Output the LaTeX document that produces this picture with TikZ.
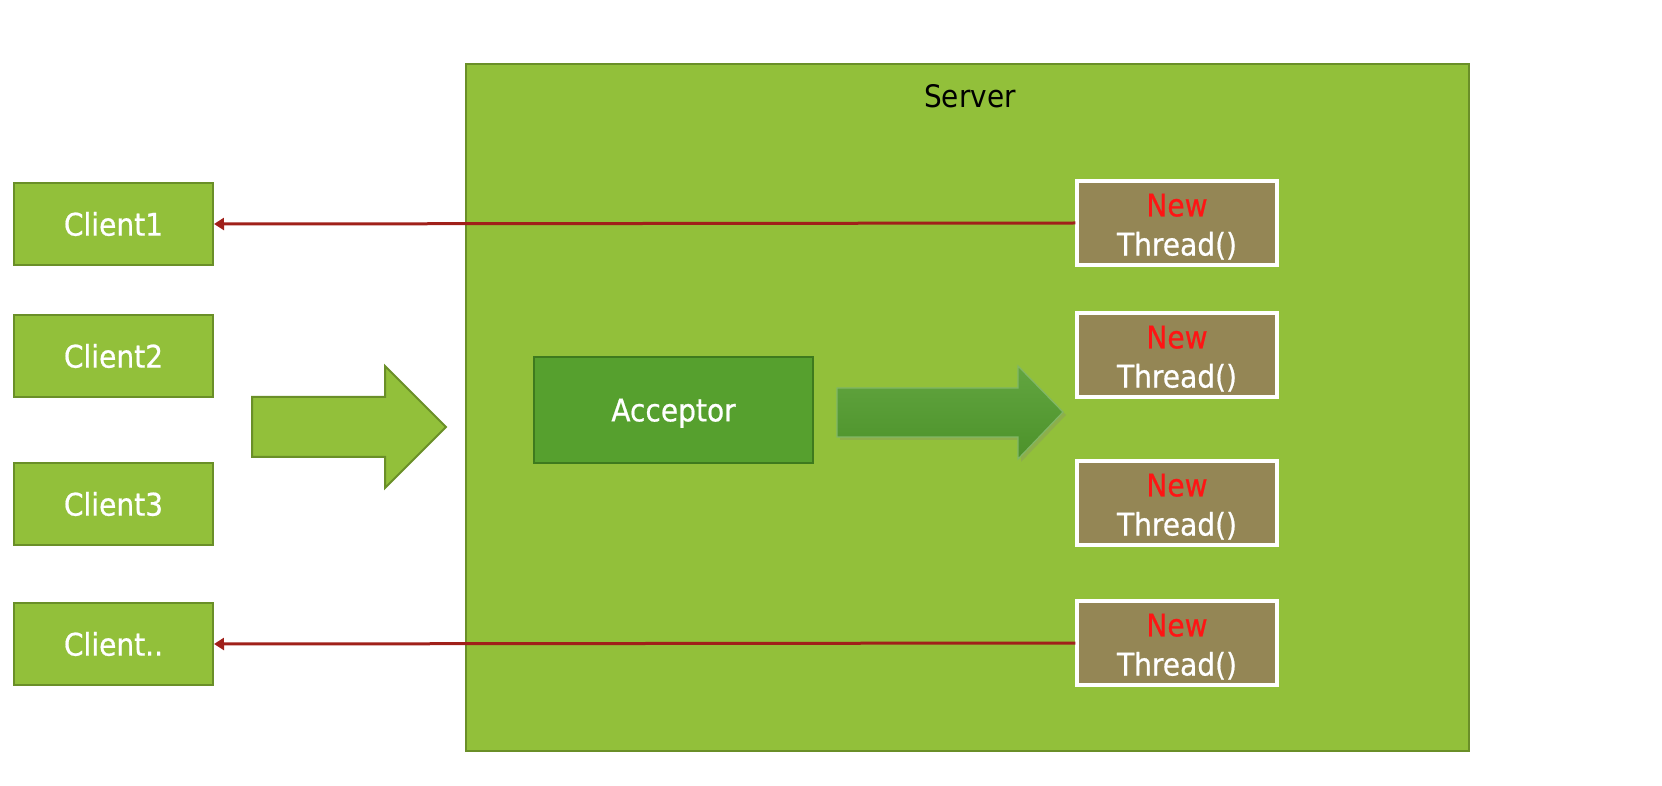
\documentclass[tikz,border=0pt]{standalone}
\usepackage{fontspec}
\setmainfont{DejaVu Sans Condensed}
\newfontfamily\boxfont{DejaVu Sans Condensed}[FakeBold=0.6]
\usepackage{tikz}
\usetikzlibrary{arrows.meta,shadows}
\definecolor{leafgreen}{RGB}{146,192,58}
\definecolor{edgegreen}{RGB}{106,143,40}
\definecolor{darkgreen}{RGB}{86,160,46}
\definecolor{darkedge}{RGB}{62,122,30}
\definecolor{threadbrown}{RGB}{148,134,85}
\definecolor{arrowred}{RGB}{160,32,26}
\definecolor{newred}{RGB}{255,20,20}
\definecolor{shadetop}{RGB}{98,165,64}
\definecolor{shadebot}{RGB}{76,146,42}

\begin{document}
\begin{tikzpicture}[x=0.5pt,y=-0.5pt,
	box/.style={font=\boxfont\fontsize{15.6}{19.6}\selectfont, text=white, inner sep=0pt},
	client/.style={box, draw=edgegreen, line width=1pt, fill=leafgreen,
		minimum width=99.5pt, minimum height=41pt},
	thread/.style={box, draw=white, line width=1.6pt, fill=threadbrown,
		minimum width=100pt, minimum height=42pt, align=center},
	reply/.style={draw=arrowred, line width=1.5pt, -{Triangle[length=5pt,width=6pt]}}]
	\useasboundingbox (0,0) rectangle (1662,786);

	% server frame
	\node[draw=edgegreen, line width=1pt, fill=leafgreen, minimum width=501.5pt,
		minimum height=343.5pt] (server) at (967.5,407.5) {};
	\node[font=\fontsize{15.5}{18}\selectfont, inner sep=0pt] (srvlabel) at (970,96) {Server};

	\node[client] (client1) at (113.5,224) {Client1};
	\node[client] (client2) at (113.5,356) {Client2};
	\node[client] (client3) at (113.5,504) {Client3};
	\node[client] (clientn) at (113.5,644) {Client..};

	\node[box, draw=darkedge, line width=1pt, fill=darkgreen, minimum width=139.5pt,
		minimum height=53pt, text depth=0pt] (acceptor) at (673.5,410) {Acceptor};

	\node[thread] (thread1) at (1177,223) {\rule{0pt}{15pt}\textcolor{newred}{New}\\Thread()};
	\node[thread] (thread2) at (1177,355) {\rule{0pt}{15pt}\textcolor{newred}{New}\\Thread()};
	\node[thread] (thread3) at (1177,503) {\rule{0pt}{15pt}\textcolor{newred}{New}\\Thread()};
	\node[thread] (thread4) at (1177,643) {\rule{0pt}{15pt}\textcolor{newred}{New}\\Thread()};

	% incoming requests
	\draw[draw=edgegreen, line width=1pt, fill=leafgreen]
		(252,397) -- (385,397) -- (385,366) -- (446,427) -- (385,488) -- (385,457) -- (252,457) -- cycle;
	% hand over to threads
	\path[top color=shadetop, bottom color=shadebot, draw=shadetop!80!white, line width=0.6pt,
		drop shadow={shadow xshift=1.5pt, shadow yshift=-1.5pt, opacity=0.25}]
		(837,388) -- (1018,388) -- (1018,366) -- (1063,412) -- (1018,459) -- (1018,437) -- (837,437) -- cycle;

	\draw[reply] (thread1.west) -- (client1.east);
	\draw[reply] (thread4.west) -- (clientn.east);
\end{tikzpicture}
\end{document}
